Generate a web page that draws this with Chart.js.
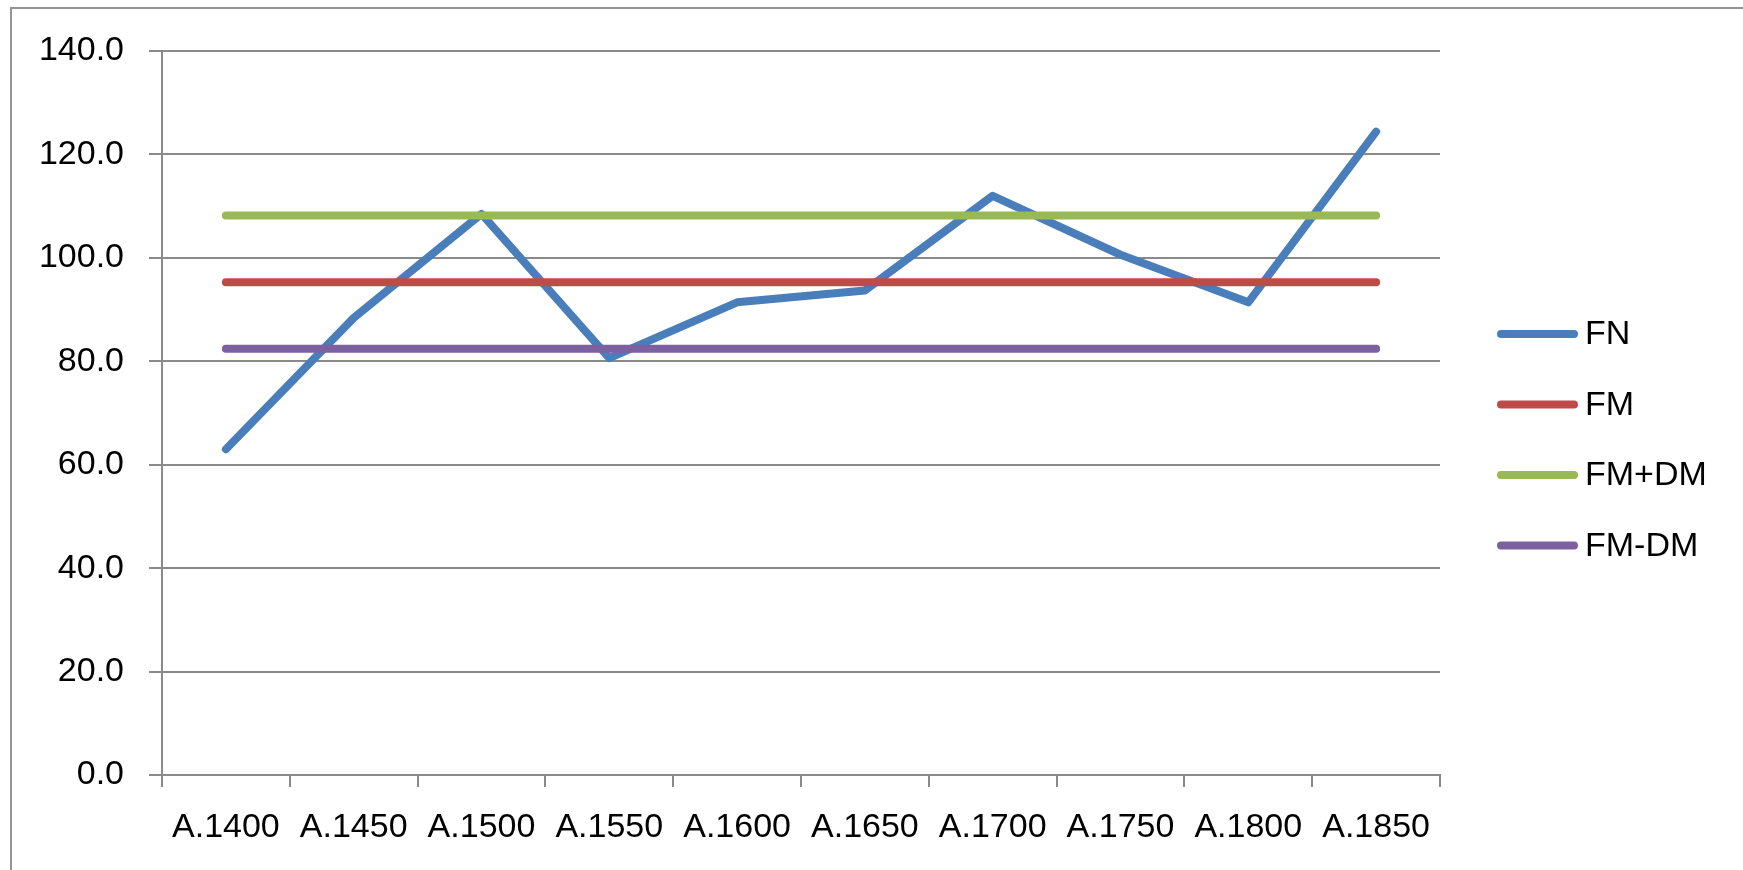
<!DOCTYPE html>
<html>
<head>
<meta charset="utf-8">
<title>FN / FM</title>
<script src="https://cdn.jsdelivr.net/npm/chart.js@4.4.1/dist/chart.umd.min.js"></script>
<style>
  html, body { margin: 0; padding: 0; background: #fff; }
  #wrap { width: 1743px; height: 870px; }
</style>
</head>
<body>
<div id="wrap"><canvas id="chart" width="1743" height="870"></canvas></div>
<script>
// data
const categories = ['A.1400', 'A.1450', 'A.1500', 'A.1550', 'A.1600', 'A.1650', 'A.1700', 'A.1750', 'A.1800', 'A.1850'];
const fnValues = [63.0, 88.4, 108.5, 80.6, 91.4, 93.7, 112.0, 100.6, 91.4, 124.4];
const fmValues = [95.3, 95.3, 95.3, 95.3, 95.3, 95.3, 95.3, 95.3, 95.3, 95.3];
const fmPlusDmValues = [108.2, 108.2, 108.2, 108.2, 108.2, 108.2, 108.2, 108.2, 108.2, 108.2];
const fmMinusDmValues = [82.4, 82.4, 82.4, 82.4, 82.4, 82.4, 82.4, 82.4, 82.4, 82.4];
const yMin = 0;
const yMax = 140;
const yStep = 20;

const FONT = '"Liberation Sans", Arial, sans-serif';
const gridColor = '#8a8a8a';

// outer frame + legend on the right, drawn on the canvas
const framePlugin = {
    id: 'frame',
    beforeDraw(chart) {
        const ctx = chart.ctx;
        ctx.save();
        ctx.strokeStyle = '#949494';
        ctx.lineWidth = 2;
        ctx.strokeRect(11, 8, chart.width + 20, chart.height + 20);
        ctx.restore();
    },
    afterDraw(chart) {
        const ctx = chart.ctx;
        chart.data.datasets.forEach((ds, i) => {
            const y = 334 + i * 70.5;
            ctx.save();
            ctx.strokeStyle = ds.borderColor;
            ctx.lineWidth = ds.borderWidth;
            ctx.lineCap = 'round';
            ctx.beginPath();
            ctx.moveTo(1501, y);
            ctx.lineTo(1574, y);
            ctx.stroke();
            ctx.fillStyle = '#000';
            ctx.font = '34px ' + FONT;
            ctx.textBaseline = 'middle';
            ctx.fillText(ds.label, 1585, y + 1);
            ctx.restore();
        });
    }
};

function lineSet(label, data, color, order) {
    return {
        label: label,
        data: data,
        borderColor: color,
        backgroundColor: color,
        borderWidth: 8,
        borderCapStyle: 'round',
        borderJoinStyle: 'round',
        pointRadius: 0,
        pointHoverRadius: 0,
        tension: 0,
        fill: false,
        order: order
    };
}

new Chart(document.getElementById('chart').getContext('2d'), {
    type: 'line',
    data: {
        labels: categories,
        datasets: [
            lineSet('FN', fnValues, '#4a7ebb', 3),
            lineSet('FM', fmValues, '#be4b48', 2),
            lineSet('FM+DM', fmPlusDmValues, '#98b954', 1),
            lineSet('FM-DM', fmMinusDmValues, '#7d60a0', 0)
        ]
    },
    options: {
        responsive: false,
        animation: false,
        layout: { padding: { top: 51, right: 303, bottom: 0, left: 0 } },
        plugins: {
            legend: { display: false },
            tooltip: { enabled: false }
        },
        scales: {
            x: {
                offset: true,
                grid: {
                    offset: true,
                    drawOnChartArea: false,
                    drawTicks: true,
                    tickLength: 12,
                    color: gridColor,
                    lineWidth: 2
                },
                border: { color: gridColor, width: 2 },
                ticks: {
                    color: '#000',
                    font: { family: FONT, size: 34 },
                    padding: 20,
                    maxRotation: 0,
                    autoSkip: false
                },
                afterFit: s => { s.height = 95; }
            },
            y: {
                min: yMin,
                max: yMax,
                grid: { color: gridColor, lineWidth: 2, tickLength: 13 },
                border: { color: gridColor, width: 2 },
                ticks: {
                    stepSize: yStep,
                    color: '#000',
                    font: { family: FONT, size: 34 },
                    padding: 25,
                    callback: v => v.toFixed(1)
                },
                afterFit: s => { s.width = 162; }
            }
        }
    },
    plugins: [framePlugin]
});
</script>
</body>
</html>
